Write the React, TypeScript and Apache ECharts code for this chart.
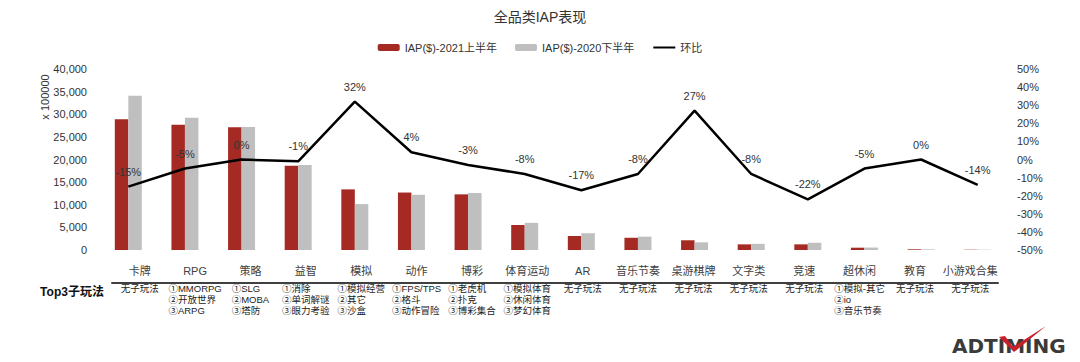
import React, { useEffect, useRef } from 'react';
import * as echarts from 'echarts';

const categories = ['卡牌', 'RPG', '策略', '益智', '模拟', '动作', '博彩', '体育运动', 'AR', '音乐节奏', '桌游棋牌', '文字类', '竞速', '超休闲', '教育', '小游戏合集'];
const iap2021H1 = [28900, 27700, 27100, 18600, 13400, 12700, 12300, 5520, 3100, 2700, 2150, 1250, 1250, 510, 150, 60];
const iap2020H2 = [34100, 29200, 27200, 18800, 10150, 12200, 12600, 6000, 3700, 2950, 1700, 1360, 1600, 540, 150, 70];
const qoq = [-15, -5, 0, -1, 32, 4, -3, -8, -17, -8, 27, -8, -22, -5, 0, -14];
const top3 = [
  ['无子玩法'],
  ['①MMORPG', '②开放世界', '③ARPG'],
  ['①SLG', '②MOBA', '③塔防'],
  ['①消除', '②单词解谜', '③眼力考验'],
  ['①模拟经营', '②其它', '③沙盒'],
  ['①FPS/TPS', '②格斗', '③动作冒险'],
  ['①老虎机', '②扑克', '③博彩集合'],
  ['①模拟体育', '②休闲体育', '③梦幻体育'],
  ['无子玩法'],
  ['无子玩法'],
  ['无子玩法'],
  ['无子玩法'],
  ['无子玩法'],
  ['①模拟-其它', '②io', '③音乐节奏'],
  ['无子玩法'],
  ['无子玩法'],
];
const leftAxisRange = { min: 0, max: 40000, interval: 5000 };
const rightAxisRange = { min: -50, max: 50, interval: 10 };
const seriesNames = ['IAP($)-2021上半年', 'IAP($)-2020下半年', '环比'];

const FONT = '"Liberation Sans", Arial, "Noto Sans CJK SC", sans-serif';

export default function App() {
  const ref = useRef<HTMLDivElement>(null);
  useEffect(() => {
    document.body.style.margin = '0';
    const chart = echarts.init(ref.current!, null, { renderer: 'svg' });
    chart.setOption({
      animation: false,
      backgroundColor: '#ffffff',
      textStyle: { fontFamily: FONT },
      title: {
        text: '全品类IAP表现',
        left: 'center',
        top: 10,
        padding: 0,
        textStyle: { fontSize: 14, fontWeight: 'normal', color: '#333333', fontFamily: FONT },
      },
      legend: {
        top: 42,
        left: 'center',
        padding: 0,
        itemGap: 18,
        itemWidth: 22,
        itemHeight: 7,
        data: seriesNames,
        textStyle: { fontSize: 11, color: '#333333', fontFamily: FONT },
      },
      graphic: [
        {
          type: 'text',
          x: 45,
          y: 97,
          rotation: Math.PI / 2,
          style: { text: 'x 100000', fontSize: 11, fill: '#333333', fontFamily: FONT, align: 'center', verticalAlign: 'middle' },
        },
        {
          type: 'text',
          x: 72,
          y: 292,
          style: { text: 'Top3子玩法', fontSize: 12, fontWeight: 'bold', fill: '#111111', fontFamily: FONT, align: 'center', verticalAlign: 'middle' },
        },
        {
          type: 'text',
          x: 952,
          y: 346,
          style: { text: 'ADTIMING', fontSize: 20, fontWeight: 'bold', fill: '#3a3a3a', fontFamily: '"DejaVu Sans", sans-serif', align: 'left', verticalAlign: 'middle' },
        },
        {
          type: 'polygon',
          shape: { points: [[999, 337], [1005, 336], [1013, 347], [1046, 326], [1014, 352]] },
          style: { fill: '#c8202a' },
        },
      ],
      grid: [
        { left: 100, right: 74, top: 69, height: 181 },
        { left: 112, right: 82, top: 282, height: 1 },
      ],
      xAxis: [
        {
          type: 'category',
          gridIndex: 0,
          data: categories,
          axisLine: { show: false },
          axisTick: { show: false },
          axisLabel: { show: false },
        },
        {
          type: 'category',
          gridIndex: 1,
          position: 'top',
          data: categories,
          axisLine: { show: true, lineStyle: { color: '#404040', width: 2 } },
          axisTick: { show: false },
          axisLabel: { interval: 0, margin: 6, fontSize: 11, color: '#404040', fontFamily: FONT },
        },
        {
          type: 'category',
          gridIndex: 1,
          position: 'bottom',
          data: categories,
          axisLine: { show: false },
          axisTick: { show: false },
          axisLabel: {
            interval: 0,
            margin: 0,
            fontSize: 9.5,
            lineHeight: 11,
            color: '#222222',
            fontFamily: FONT,
            formatter: (_v: string, i: number) => top3[i].map((l) => `{a|${l}}`).join('\n'),
            rich: { a: { fontSize: 9.5, lineHeight: 11, color: '#222222', align: 'left', fontFamily: FONT } },
          },
        },
      ],
      yAxis: [
        {
          type: 'value',
          gridIndex: 0,
          position: 'left',
          ...leftAxisRange,
          axisLine: { show: false },
          axisTick: { show: false },
          splitLine: { show: false },
          axisLabel: {
            margin: 13,
            fontSize: 11,
            color: '#333333',
            fontFamily: FONT,
            formatter: (v: number) => v.toLocaleString('en-US'),
          },
        },
        {
          type: 'value',
          gridIndex: 0,
          position: 'right',
          ...rightAxisRange,
          axisLine: { show: false },
          axisTick: { show: false },
          splitLine: { show: false },
          axisLabel: { margin: 11, fontSize: 11, color: '#333333', fontFamily: FONT, formatter: (v: number) => `${v}%` },
        },
        { type: 'value', gridIndex: 1, show: false, splitLine: { show: false } },
      ],
      series: [
        {
          name: seriesNames[0],
          type: 'bar',
          xAxisIndex: 0,
          yAxisIndex: 0,
          data: iap2021H1,
          barWidth: 13.5,
          barGap: '0%',
          itemStyle: { color: '#a52a24' },
        },
        {
          name: seriesNames[1],
          type: 'bar',
          xAxisIndex: 0,
          yAxisIndex: 0,
          data: iap2020H2,
          barWidth: 13.5,
          barGap: '0%',
          itemStyle: { color: '#bfbfbf' },
        },
        {
          name: seriesNames[2],
          type: 'line',
          xAxisIndex: 0,
          yAxisIndex: 1,
          data: qoq,
          symbol: 'circle',
          symbolSize: 1,
          showSymbol: true,
          z: 5,
          lineStyle: { color: '#000000', width: 2.5 },
          itemStyle: { color: 'rgba(0,0,0,0)' },
          label: {
            show: true,
            position: 'top',
            distance: 9,
            fontSize: 11,
            color: '#333333',
            fontFamily: FONT,
            formatter: (p: any) => `${p.value}%`,
          },
        },
      ],
    });
    return () => chart.dispose();
  }, []);
  return <div ref={ref} style={{ width: 1080, height: 362 }} />;
}
